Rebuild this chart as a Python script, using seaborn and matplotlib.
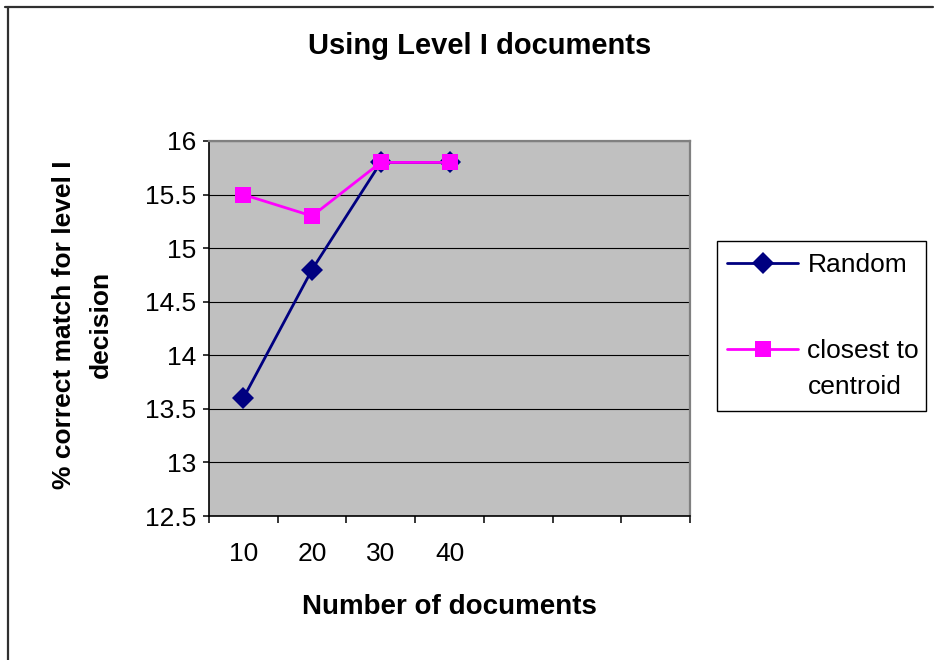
import matplotlib
matplotlib.use("Agg")
import matplotlib.pyplot as plt
from matplotlib.lines import Line2D
from matplotlib.patches import Rectangle
import numpy as np
import pandas as pd
import seaborn as sns

# Data
docs = ["10", "20", "30", "40"]
random_pct = [13.6, 14.8, 15.8, 15.8]
centroid_pct = [15.5, 15.3, 15.8, 15.8]
series_names = ["Random", "closest to centroid"]
y_ticks = [12.5, 13, 13.5, 14, 14.5, 15, 15.5, 16]
n_slots = 7  # category slots on the x axis (only the first four are filled)

sns.set_style("ticks")
plt.rcParams["font.family"] = ["Liberation Sans", "DejaVu Sans"]
plt.rcParams.update({
    "text.color": "black",
    "axes.labelcolor": "black",
    "xtick.color": "black",
    "ytick.color": "black",
})

W, H = 934, 660
fig = plt.figure(figsize=(W / 100, H / 100), dpi=100)
fig.patch.set_facecolor("white")
ax = fig.add_axes([209 / W, 1 - 516 / H, 481 / W, 375 / H])
ax.set_facecolor("#C0C0C0")

styles = [
    (series_names[0], random_pct, "#000080", "D", 11.0),
    (series_names[1], centroid_pct, "#FF00FF", "s", 11.5),
]
for name, vals, color, mk, ms in styles:
    df = pd.DataFrame({"docs": docs, "pct": vals})
    sns.lineplot(data=df, x="docs", y="pct", color=color, marker=mk,
                 markersize=ms, markeredgewidth=0, linewidth=2.0,
                 sort=False, errorbar=None, ax=ax, legend=False, zorder=3)

ax.set_xlim(-0.5, n_slots - 0.5)
ax.set_ylim(y_ticks[0], y_ticks[-1])
ax.set_yticks(y_ticks)
ax.set_yticklabels([f"{v:g}" for v in y_ticks])
ax.set_xticks(range(len(docs)))
ax.set_xticklabels(docs)
ax.set_xticks(np.arange(-0.5, n_slots), minor=True)

ax.tick_params(axis="x", which="major", length=0, pad=19, labelsize=19,
               labelcolor="black")
ax.tick_params(axis="x", which="minor", length=5, width=1.1, color="black",
               direction="out")
ax.tick_params(axis="y", which="major", length=4.5, width=1.1, color="black",
               direction="out", pad=5, labelsize=19, labelcolor="black")

ax.yaxis.grid(True, color="black", linewidth=0.8)
ax.xaxis.grid(False)
ax.set_axisbelow(True)

for side in ("left", "bottom"):
    ax.spines[side].set_color("black")
    ax.spines[side].set_linewidth(1.2)
for side in ("top", "right"):
    ax.spines[side].set_visible(True)
    ax.spines[side].set_color("#808080")
    ax.spines[side].set_linewidth(1.6)

ax.set_xlabel("Number of documents", fontsize=20, fontweight="bold",
              va="center", color="black")
ax.xaxis.set_label_coords(0.5, (516 - 607) / 375)
ax.set_ylabel("% correct match for level I\ndecision", fontsize=19,
              fontweight="bold", va="center", linespacing=1.7, color="black")
ax.yaxis.set_label_coords((82.5 - 209) / 481, 0.51)

fig.suptitle("Using Level I documents", x=480 / W, y=1 - 46 / H,
             va="center", fontsize=21, fontweight="bold", color="black")

# Legend
handles = [Line2D([], [], color=c, marker=m, markersize=ms, markeredgewidth=0,
                  linewidth=2.0) for _, _, c, m, ms in styles]
leg = fig.legend(handles, ["Random", "closest to"], loc="upper left",
                 bbox_to_anchor=(727 / W, 1 - 253 / H), frameon=False,
                 fontsize=19, handlelength=2.7, handletextpad=0.35,
                 labelspacing=2.35, borderpad=0, borderaxespad=0)
fig.patches.append(Rectangle((717 / W, 1 - 411 / H), 209 / W, 170 / H,
                             transform=fig.transFigure, fill=False,
                             edgecolor="black", linewidth=1.0))

fig.canvas.draw()
bb = leg.get_texts()[1].get_window_extent()
fig.text(bb.x0 / W, ((bb.y0 + bb.y1) / 2 - 36) / H, "centroid",
         fontsize=19, va="center", ha="left", color="black")

# Chart frame
fig.add_artist(Line2D([5 / W, 933 / W], [1 - 7 / H, 1 - 7 / H],
                      transform=fig.transFigure, color="#303030", lw=1.6))
fig.add_artist(Line2D([8 / W, 8 / W], [0, 1 - 7 / H],
                      transform=fig.transFigure, color="#303030", lw=1.6))

fig.savefig("out.png", dpi=100)
